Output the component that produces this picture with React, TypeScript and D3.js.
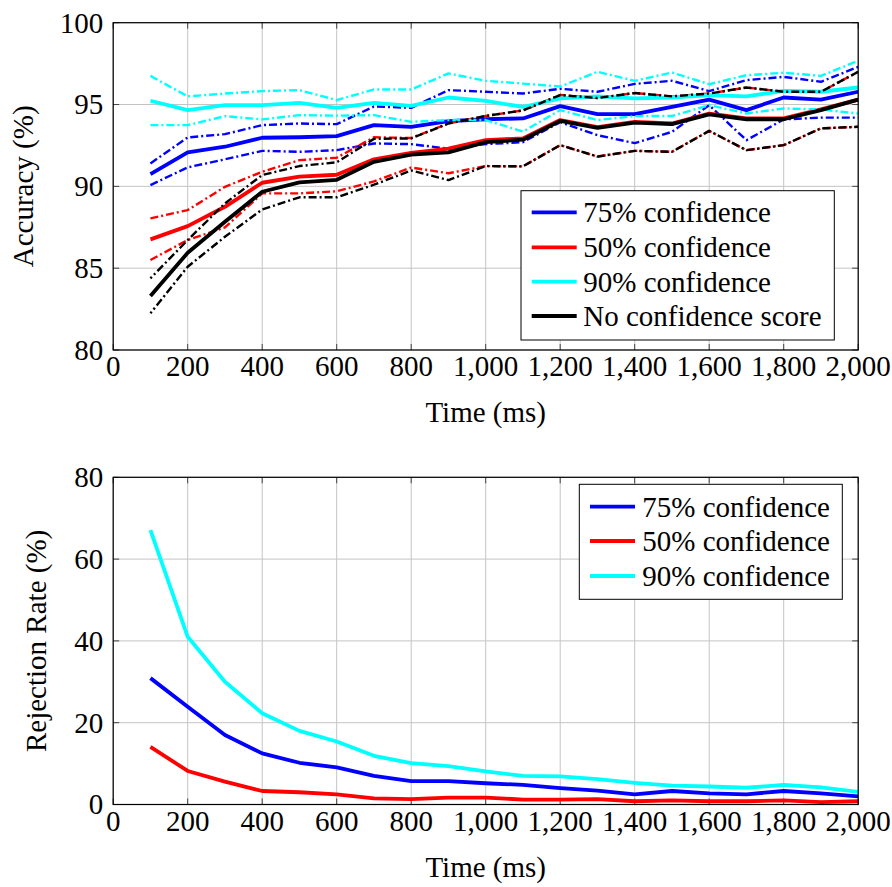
import React from "react";
import * as d3 from "d3";

const times = [100, 200, 300, 400, 500, 600, 700, 800, 900, 1000, 1100, 1200, 1300, 1400, 1500, 1600, 1700, 1800, 1900, 2000];

const acc75 = [90.75, 92.07, 92.42, 92.97, 93.0, 93.07, 93.74, 93.64, 93.98, 94.1, 94.15, 94.9, 94.41, 94.41, 94.86, 95.3, 94.66, 95.43, 95.3, 95.78];
const acc75Hi = [91.4, 92.99, 93.19, 93.74, 93.84, 93.8, 94.88, 94.8, 95.88, 95.78, 95.67, 95.96, 95.78, 96.26, 96.45, 95.82, 96.49, 96.69, 96.39, 97.3];
const acc75Lo = [90.08, 91.16, 91.65, 92.17, 92.11, 92.21, 92.62, 92.58, 92.3, 92.58, 92.7, 93.92, 93.13, 92.64, 93.33, 94.96, 92.82, 94.09, 94.2, 94.2];

const acc50 = [86.76, 87.57, 88.75, 90.22, 90.59, 90.71, 91.65, 92.05, 92.3, 92.82, 92.93, 94.05, 93.62, 93.94, 93.84, 94.45, 94.15, 94.15, 94.7, 95.3];
const acc50Hi = [88.04, 88.55, 89.97, 90.89, 91.6, 91.75, 93.0, 92.95, 93.84, 94.3, 94.64, 95.58, 95.4, 95.7, 95.5, 95.67, 96.04, 95.78, 95.78, 97.0];
const acc50Lo = [85.5, 86.72, 87.49, 89.57, 89.57, 89.7, 90.3, 91.15, 90.8, 91.24, 91.22, 92.52, 91.82, 92.17, 92.11, 93.39, 92.21, 92.52, 93.54, 93.64];

const acc90 = [95.23, 94.66, 94.96, 94.96, 95.1, 94.8, 95.1, 94.92, 95.43, 95.22, 94.85, 95.37, 95.5, 95.38, 95.43, 95.57, 95.5, 95.84, 95.78, 96.04];
const acc90Hi = [96.75, 95.5, 95.67, 95.82, 95.88, 95.27, 95.92, 95.92, 96.9, 96.45, 96.28, 96.1, 97.0, 96.45, 96.96, 96.24, 96.79, 96.94, 96.75, 97.67];
const acc90Lo = [93.74, 93.74, 94.29, 94.09, 94.35, 94.32, 94.35, 93.94, 94.05, 94.05, 93.35, 94.66, 94.05, 94.29, 94.3, 94.96, 94.45, 94.76, 94.7, 94.45];

const accNone = [83.3, 85.94, 87.84, 89.67, 90.24, 90.4, 91.5, 91.94, 92.08, 92.7, 92.85, 94.0, 93.57, 93.89, 93.8, 94.4, 94.1, 94.1, 94.66, 95.3];
const accNoneHi = [84.38, 86.72, 88.96, 90.69, 91.24, 91.47, 92.9, 92.93, 93.84, 94.3, 94.64, 95.58, 95.4, 95.7, 95.5, 95.67, 96.04, 95.78, 95.78, 97.0];
const accNoneLo = [82.24, 85.09, 86.92, 88.59, 89.33, 89.33, 90.1, 90.97, 90.38, 91.24, 91.22, 92.52, 91.82, 92.17, 92.11, 93.39, 92.21, 92.52, 93.54, 93.64];

const rej75 = [30.9, 23.9, 17.0, 12.5, 10.2, 9.1, 7.0, 5.7, 5.7, 5.2, 4.8, 4.0, 3.4, 2.5, 3.3, 2.7, 2.5, 3.3, 2.7, 2.0];
const rej50 = [14.1, 8.2, 5.6, 3.3, 3.0, 2.5, 1.5, 1.3, 1.7, 1.7, 1.2, 1.2, 1.3, 0.8, 1.0, 0.8, 0.8, 1.0, 0.6, 0.8];
const rej90 = [67.1, 41.0, 30.0, 22.3, 18.0, 15.4, 11.9, 10.1, 9.4, 8.1, 7.0, 6.9, 6.2, 5.3, 4.6, 4.4, 4.1, 4.8, 4.2, 3.1];

const xTicks = [0, 200, 400, 600, 800, 1000, 1200, 1400, 1600, 1800, 2000];
const accTicks = [80, 85, 90, 95, 100];
const rejTicks = [0, 20, 40, 60, 80];

const legendTop = ["75% confidence", "50% confidence", "90% confidence", "No confidence score"];
const legendBottom = ["75% confidence", "50% confidence", "90% confidence"];

const BLUE = "#0000ff";
const RED = "#ff0000";
const CYAN = "#00ffff";
const BLACK = "#000000";
const FONT = "Liberation Serif";
const FS = 29;

const X0 = 113.2;
const X1 = 858.2;

const fmt = d3.format(",");

type Series = { values: number[]; color: string; width: number; dash?: string; offset?: number };

function Panel(props: {
  id: string;
  top: number;
  bottom: number;
  domain: [number, number];
  yTicks: number[];
  yLabel: string;
  yLabelX: number;
  series: Series[];
  legend: { x: number; y: number; w: number; h: number; lineX0: number; lineX1: number; textX: number; rows: number[]; labels: string[]; colors: string[] };
}) {
  const { id, top, bottom, domain, yTicks, yLabel, yLabelX, series, legend } = props;
  const x = d3.scaleLinear().domain([0, 2000]).range([X0, X1]);
  const y = d3.scaleLinear().domain(domain).range([bottom, top]);
  const line = d3
    .line<number>()
    .x((_, i) => x(times[i]))
    .y((v) => y(v));
  const tickLen = 6;
  const tickColor = "#444";
  return (
    <g>
      <defs>
        <clipPath id={id}>
          <rect x={X0} y={top} width={X1 - X0} height={bottom - top} />
        </clipPath>
      </defs>
      {xTicks.map((t) => (
        <line key={"gx" + t} x1={x(t)} x2={x(t)} y1={top} y2={bottom} stroke="#c4c4c4" strokeWidth={1} />
      ))}
      {yTicks.map((t) => (
        <line key={"gy" + t} x1={X0} x2={X1} y1={y(t)} y2={y(t)} stroke="#c4c4c4" strokeWidth={1} />
      ))}
      {xTicks.map((t) => (
        <g key={"tx" + t}>
          <line x1={x(t)} x2={x(t)} y1={bottom} y2={bottom - tickLen} stroke={tickColor} strokeWidth={1} />
          <line x1={x(t)} x2={x(t)} y1={top} y2={top + tickLen} stroke={tickColor} strokeWidth={1} />
        </g>
      ))}
      {yTicks.map((t) => (
        <g key={"ty" + t}>
          <line x1={X0} x2={X0 + tickLen} y1={y(t)} y2={y(t)} stroke={tickColor} strokeWidth={1} />
          <line x1={X1} x2={X1 - tickLen} y1={y(t)} y2={y(t)} stroke={tickColor} strokeWidth={1} />
        </g>
      ))}
      <g clipPath={`url(#${id})`}>
        {series.map((s, i) => (
          <path
            key={i}
            d={line(s.values) || ""}
            fill="none"
            stroke={s.color}
            strokeWidth={s.width}
            strokeDasharray={s.dash}
            strokeDashoffset={s.offset}
            strokeLinejoin="round"
          />
        ))}
      </g>
      <rect x={X0} y={top} width={X1 - X0} height={bottom - top} fill="none" stroke="#000" strokeWidth={1.2} />
      {xTicks.map((t) => (
        <text key={"lx" + t} x={x(t)} y={bottom + 26} textAnchor="middle" fontFamily={FONT} fontSize={FS}>
          {fmt(t)}
        </text>
      ))}
      {yTicks.map((t) => (
        <text key={"ly" + t} x={X0 - 10} y={y(t)} dy="0.34em" textAnchor="end" fontFamily={FONT} fontSize={FS}>
          {t}
        </text>
      ))}
      <text x={(X0 + X1) / 2} y={bottom + 72} textAnchor="middle" fontFamily={FONT} fontSize={FS}>
        Time (ms)
      </text>
      <text
        transform={`translate(${yLabelX},${(top + bottom) / 2}) rotate(-90)`}
        textAnchor="middle"
        fontFamily={FONT}
        fontSize={FS}
      >
        {yLabel}
      </text>
      <rect x={legend.x} y={legend.y} width={legend.w} height={legend.h} fill="#fff" stroke="#000" strokeWidth={1} />
      {legend.labels.map((lab, i) => (
        <g key={"lg" + i}>
          <line x1={legend.lineX0} x2={legend.lineX1} y1={legend.rows[i]} y2={legend.rows[i]} stroke={legend.colors[i]} strokeWidth={3.8} />
          <text x={legend.textX} y={legend.rows[i]} dy="0.34em" fontFamily={FONT} fontSize={FS}>
            {lab}
          </text>
        </g>
      ))}
    </g>
  );
}

export default function App() {
  const DD = "8 3 2 3";
  const dw = 2.4;
  const sw = 3.8;
  const topSeries: Series[] = [
    { values: acc75Hi, color: BLUE, width: dw, dash: DD },
    { values: acc75Lo, color: BLUE, width: dw, dash: DD },
    { values: acc75, color: BLUE, width: sw },
    { values: acc50Hi, color: RED, width: dw, dash: DD },
    { values: acc50Lo, color: RED, width: dw, dash: DD },
    { values: acc50, color: RED, width: sw },
    { values: acc90Hi, color: CYAN, width: dw, dash: DD },
    { values: acc90Lo, color: CYAN, width: dw, dash: DD },
    { values: acc90, color: CYAN, width: sw },
    { values: accNoneHi, color: BLACK, width: dw, dash: DD, offset: 6 },
    { values: accNoneLo, color: BLACK, width: dw, dash: DD, offset: 6 },
    { values: accNone, color: BLACK, width: sw },
  ];
  const bottomSeries: Series[] = [
    { values: rej75, color: BLUE, width: sw },
    { values: rej50, color: RED, width: sw },
    { values: rej90, color: CYAN, width: sw },
  ];
  return (
    <svg
      width={892}
      height={887}
      viewBox="0 0 892 887"
      style={{ position: "absolute", left: 0, top: 0, background: "#fff" }}
    >
      <rect x={0} y={0} width={892} height={887} fill="#fff" />
      <Panel
        id="clipTop"
        top={22.7}
        bottom={350}
        domain={[80, 100]}
        yTicks={accTicks}
        yLabel="Accuracy (%)"
        yLabelX={33}
        series={topSeries}
        legend={{
          x: 521,
          y: 190.7,
          w: 313.3,
          h: 149.3,
          lineX0: 531.7,
          lineX1: 576.7,
          textX: 583.3,
          rows: [212.3, 247.3, 281.7, 316],
          labels: legendTop,
          colors: [BLUE, RED, CYAN, BLACK],
        }}
      />
      <Panel
        id="clipBottom"
        top={477.3}
        bottom={804.5}
        domain={[0, 80]}
        yTicks={rejTicks}
        yLabel="Rejection Rate (%)"
        yLabelX={46}
        series={bottomSeries}
        legend={{
          x: 579.3,
          y: 484.3,
          w: 263,
          h: 115,
          lineX0: 590,
          lineX1: 635,
          textX: 642.3,
          rows: [506.7, 541, 576],
          labels: legendBottom,
          colors: [BLUE, RED, CYAN],
        }}
      />
    </svg>
  );
}
